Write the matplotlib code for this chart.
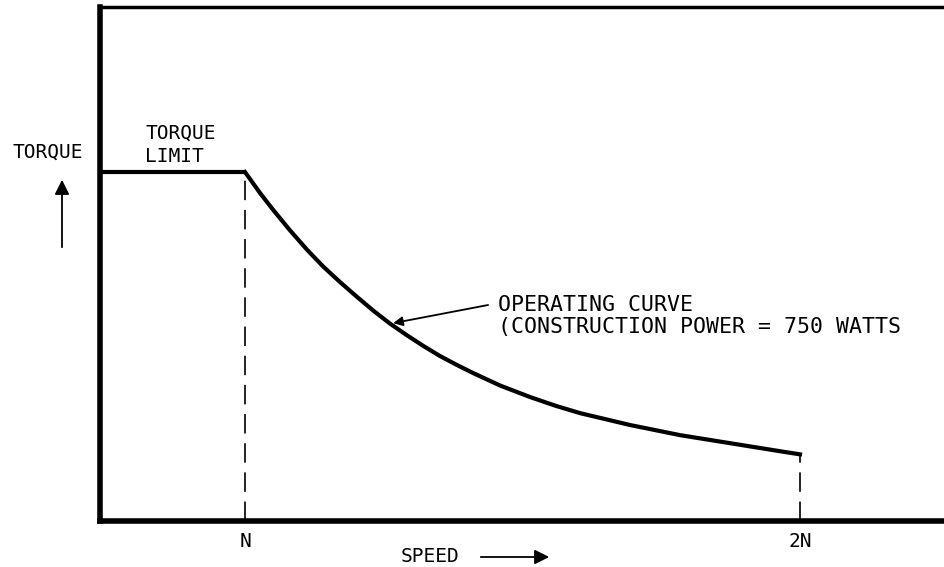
import matplotlib
matplotlib.use('Agg')
import matplotlib.pyplot as plt

# operating curve (speed in units of N, torque in units of the limit)
speed = [1.0, 1.027, 1.05, 1.081, 1.112, 1.141, 1.171, 1.202, 1.231, 1.261, 1.292, 1.321,
         1.351, 1.382, 1.411, 1.46, 1.514, 1.56, 1.604, 1.694, 1.784, 1.874, 1.964, 2.0]
torque = [1.0, 0.940, 0.893, 0.833, 0.777, 0.729, 0.685, 0.642, 0.603, 0.566, 0.532, 0.502,
          0.473, 0.447, 0.424, 0.388, 0.355, 0.330, 0.309, 0.275, 0.246, 0.223, 0.200, 0.191]
limit_speed = [0.7387, 1.0]
limit_torque = [1.0, 1.0]
tick_pos = [1, 2]
tick_lab = ['N', '2N']

plt.rcParams['font.family'] = ['DejaVu Sans Mono']
plt.rcParams['lines.scale_dashes'] = False

fig = plt.figure(figsize=(9.45, 5.67), dpi=100)
ax = fig.add_axes([100/945, 46/567, 1 - 100/945, (521-7)/567])
ax.set_xlim(0.7387, 2.2613)
ax.set_ylim(0, 1.473)

ax.plot(limit_speed, limit_torque, color='black', lw=3, solid_capstyle='butt')
ax.plot(speed, torque, color='black', lw=3, solid_joinstyle='round')
# dashed drops to the speed axis
ax.plot([speed[0], speed[0]], [0, torque[0]], color='black', lw=1.2, ls=(0, (14, 7)))
ax.plot([speed[-1], speed[-1]], [0, torque[-1]], color='black', lw=1.2, ls=(0, (14, 7)))

for s in ['left', 'bottom']:
    ax.spines[s].set_linewidth(4)
ax.spines['top'].set_linewidth(2.5)
ax.spines['right'].set_visible(False)

ax.set_xticks(tick_pos)
ax.set_xticklabels(tick_lab, fontsize=14)
ax.tick_params(axis='x', length=0, pad=8)
ax.set_yticks([])

ax.text(0.82, 1.079, 'TORQUE\nLIMIT', fontsize=14, ha='left', va='center',
        linespacing=1.3)
ax.text(1.456, 0.587, 'OPERATING CURVE\n(CONSTRUCTION POWER = 750 WATTS',
        fontsize=15.5, ha='left', va='center', linespacing=1.15)
ax.annotate('', xy=(1.267, 0.567), xytext=(1.438, 0.619),
            arrowprops=dict(arrowstyle='-|>', color='black', lw=1.3,
                            mutation_scale=14, shrinkA=0, shrinkB=0))

# axis captions outside the frame
fig.text(48/945, 1 - 152/567, 'TORQUE', fontsize=14, ha='center', va='center')
fig.add_artist(matplotlib.patches.FancyArrowPatch(
    (62/945, 1 - 250/567), (62/945, 1 - 177/567), transform=fig.transFigure,
    arrowstyle='-|>', mutation_scale=22, color='black', lw=1.3))
fig.text(430/945, 1 - 557/567, 'SPEED', fontsize=14, ha='center', va='center')
fig.add_artist(matplotlib.patches.FancyArrowPatch(
    (478/945, 1 - 557/567), (552/945, 1 - 557/567), transform=fig.transFigure,
    arrowstyle='-|>', mutation_scale=22, color='black', lw=1.3))

fig.savefig('out.png', dpi=100)
